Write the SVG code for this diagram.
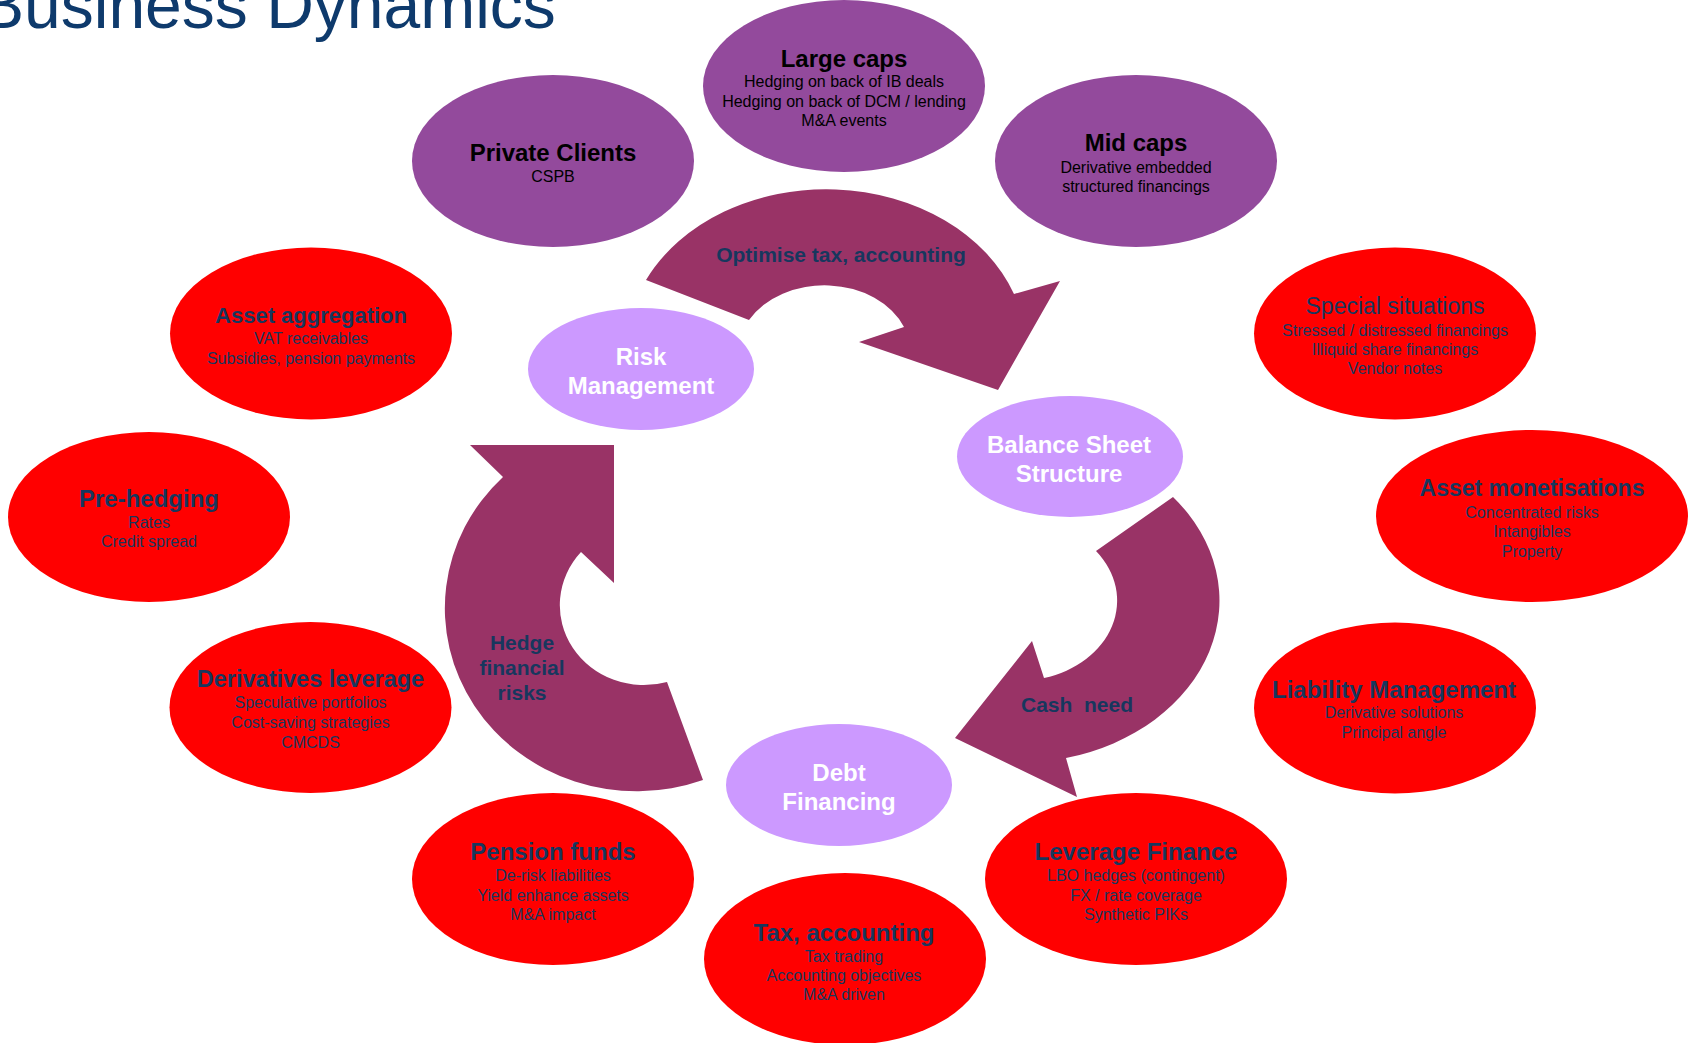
<svg xmlns="http://www.w3.org/2000/svg" width="1690" height="1043" viewBox="0 0 1690 1043">
  <style>
    text { font-family: "Liberation Sans", Arial, Helvetica, sans-serif; text-anchor: middle; }
    .heading { font-size: 66px; fill: #0E3A6C; text-anchor: start; }
    .client { fill: #934A9C; }
    .offer { fill: #FF0000; }
    .core { fill: #CC99FF; }
    .flow { fill: #993366; }
    .t-client { font-size: 24px; font-weight: bold; fill: #000000; }
    .s-client { font-size: 16px; fill: #000000; }
    .t-offer { font-size: 24px; font-weight: bold; fill: #17375E; }
    .s-offer { font-size: 16px; fill: #17375E; }
    .t-core { font-size: 24px; font-weight: bold; fill: #FFFFFF; }
    .t-flow { font-size: 21px; font-weight: bold; fill: #17375E; }
  </style>

  <rect width="1690" height="1043" fill="#FFFFFF"/>

  <text class="heading" x="-20" y="28">Business Dynamics</text>

  <!-- curved block arrows of the cycle -->
  <g id="connectors">
    <g id="arrow-optimise">
      <path class="flow" d="M 646,280 A 200 160 0 0 1 1014,294 L 1060,281 L 998,390 L 859,342 L 904,327 A 86 67 0 0 0 749,320 Z"/>
      <text class="t-flow" x="841" y="262">Optimise tax, accounting</text>
    </g>
    <g id="arrow-cash">
      <path class="flow" d="M 1173,497 A 201 162 0 0 1 1066,758 L 1077,797 L 955,738 L 1032,641 L 1044,678 A 98 80 0 0 0 1096,551 Z"/>
      <text class="t-flow" x="1077" y="712" xml:space="preserve" style="white-space:pre">Cash  need</text>
    </g>
    <g id="arrow-hedge">
      <path class="flow" d="M 703,780 A 192 183 0 0 1 503,477 L 470,445 L 614,445 L 614,583 L 581,552 A 84 80 0 0 0 667,682 Z"/>
      <text class="t-flow" x="522" y="649.5">Hedge</text>
      <text class="t-flow" x="522" y="674.5">financial</text>
      <text class="t-flow" x="522" y="699.5">risks</text>
    </g>
  </g>

  <!-- client segments -->
  <g id="node-large-caps">
    <ellipse class="client" cx="844" cy="86" rx="141" ry="86"/>
    <text class="t-client" x="844" y="66.5">Large caps</text>
    <text class="s-client" x="844" y="87">Hedging on back of IB deals</text>
    <text class="s-client" x="844" y="106.5">Hedging on back of DCM / lending</text>
    <text class="s-client" x="844" y="126">M&amp;A events</text>
  </g>
  <g id="node-private-clients">
    <ellipse class="client" cx="553" cy="161" rx="141" ry="86"/>
    <text class="t-client" x="553" y="161">Private Clients</text>
    <text class="s-client" x="553" y="182">CSPB</text>
  </g>
  <g id="node-mid-caps">
    <ellipse class="client" cx="1136" cy="161" rx="141" ry="86"/>
    <text class="t-client" x="1136" y="151">Mid caps</text>
    <text class="s-client" x="1136" y="172.5">Derivative embedded</text>
    <text class="s-client" x="1136" y="191.5">structured financings</text>
  </g>

  <!-- core activities -->
  <g id="node-risk-management">
    <ellipse class="core" cx="641" cy="369" rx="113" ry="61"/>
    <text class="t-core" x="641" y="365">Risk</text>
    <text class="t-core" x="641" y="394">Management</text>
  </g>
  <g id="node-balance-sheet">
    <ellipse class="core" cx="1070" cy="456.5" rx="113" ry="60.5"/>
    <text class="t-core" x="1069" y="452.5">Balance Sheet</text>
    <text class="t-core" x="1069" y="481.5">Structure</text>
  </g>
  <g id="node-debt-financing">
    <ellipse class="core" cx="839" cy="785" rx="113" ry="61"/>
    <text class="t-core" x="839" y="781">Debt</text>
    <text class="t-core" x="839" y="810">Financing</text>
  </g>

  <!-- product areas -->
  <g id="node-asset-aggregation">
    <ellipse class="offer" cx="311" cy="333.5" rx="141" ry="86"/>
    <text class="t-offer" x="311" y="322.5" style="font-size:22px">Asset aggregation</text>
    <text class="s-offer" x="311" y="344">VAT receivables</text>
    <text class="s-offer" x="311" y="364">Subsidies, pension payments</text>
  </g>
  <g id="node-special-situations">
    <ellipse class="offer" cx="1395" cy="333.5" rx="141" ry="86"/>
    <text class="t-offer" x="1395" y="314" style="font-size:23px;font-weight:normal">Special situations</text>
    <text class="s-offer" x="1395" y="335.5">Stressed / distressed financings</text>
    <text class="s-offer" x="1395" y="354.5">Illiquid share financings</text>
    <text class="s-offer" x="1395" y="373.5">Vendor notes</text>
  </g>
  <g id="node-pre-hedging">
    <ellipse class="offer" cx="149" cy="517" rx="141" ry="85"/>
    <text class="t-offer" x="149" y="507">Pre-hedging</text>
    <text class="s-offer" x="149" y="527.5">Rates</text>
    <text class="s-offer" x="149" y="546.5">Credit spread</text>
  </g>
  <g id="node-asset-monetisations">
    <ellipse class="offer" cx="1532" cy="516" rx="156" ry="86"/>
    <text class="t-offer" x="1532" y="496" style="font-size:23px">Asset monetisations</text>
    <text class="s-offer" x="1532" y="517.5">Concentrated risks</text>
    <text class="s-offer" x="1532" y="537">Intangibles</text>
    <text class="s-offer" x="1532" y="556.5">Property</text>
  </g>
  <g id="node-derivatives-leverage">
    <ellipse class="offer" cx="310.5" cy="707.5" rx="141" ry="85.5"/>
    <text class="t-offer" x="310.5" y="686.5" style="font-size:23.5px">Derivatives leverage</text>
    <text class="s-offer" x="310.5" y="708">Speculative portfolios</text>
    <text class="s-offer" x="310.5" y="728">Cost-saving strategies</text>
    <text class="s-offer" x="310.5" y="747.5">CMCDS</text>
  </g>
  <g id="node-liability-management">
    <ellipse class="offer" cx="1395" cy="708" rx="141" ry="85.5"/>
    <text class="t-offer" x="1394" y="698">Liability Management</text>
    <text class="s-offer" x="1394" y="718">Derivative solutions</text>
    <text class="s-offer" x="1394" y="737.5">Principal angle</text>
  </g>
  <g id="node-pension-funds">
    <ellipse class="offer" cx="553" cy="879" rx="141" ry="86"/>
    <text class="t-offer" x="553" y="860">Pension funds</text>
    <text class="s-offer" x="553" y="881">De-risk liabilities</text>
    <text class="s-offer" x="553" y="900.5">Yield enhance assets</text>
    <text class="s-offer" x="553" y="919.5">M&amp;A impact</text>
  </g>
  <g id="node-tax-accounting">
    <ellipse class="offer" cx="845" cy="959" rx="141" ry="86"/>
    <text class="t-offer" x="844" y="940.5">Tax, accounting</text>
    <text class="s-offer" x="844" y="962">Tax trading</text>
    <text class="s-offer" x="844" y="981">Accounting objectives</text>
    <text class="s-offer" x="844" y="999.5">M&amp;A driven</text>
  </g>
  <g id="node-leverage-finance">
    <ellipse class="offer" cx="1136" cy="879" rx="151" ry="86"/>
    <text class="t-offer" x="1136" y="860">Leverage Finance</text>
    <text class="s-offer" x="1136" y="881">LBO hedges (contingent)</text>
    <text class="s-offer" x="1136" y="900.5">FX / rate coverage</text>
    <text class="s-offer" x="1136" y="919.5">Synthetic PIKs</text>
  </g>
</svg>
